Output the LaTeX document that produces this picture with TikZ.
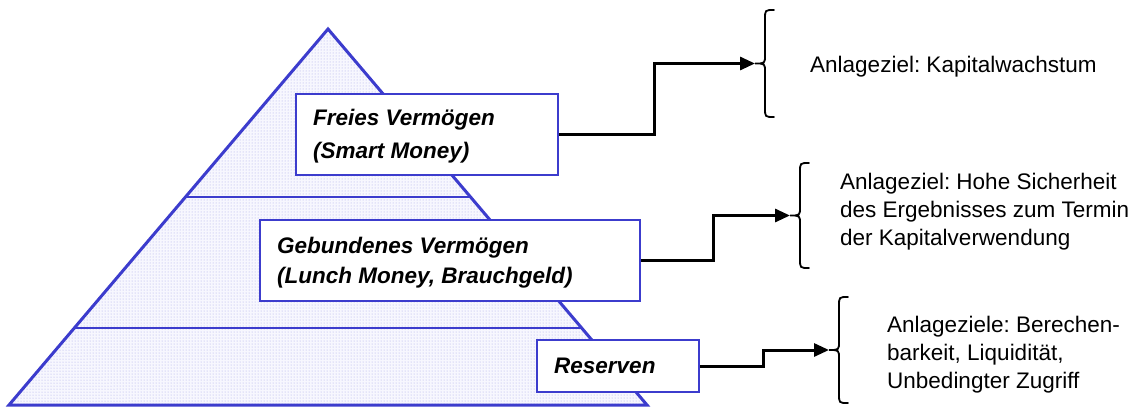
\documentclass[tikz,border=0pt]{standalone}
\usepackage{fontspec}
\setmainfont{Liberation Sans}
\frenchspacing
\usetikzlibrary{arrows.meta,patterns,calc}
\definecolor{pyrblue}{RGB}{60,60,205}
\definecolor{dotfill}{RGB}{247,247,254}
\tikzset{
  pyr/.style={draw=pyrblue,line width=3pt,line join=miter,preaction={fill=dotfill},pattern=dots,pattern color=pyrblue!45},
  divider/.style={draw=pyrblue,line width=2pt},
  levelbox/.style={draw=pyrblue,line width=2pt,fill=white,anchor=north west,inner sep=0pt},
  boxtext/.style={anchor=west,inner sep=0pt,align=left},
  conn/.style={draw=black,line width=3pt,-{Triangle[length=15pt,width=13pt]},line join=miter},
  curly/.style={draw=black,line width=1.8pt,line cap=round},
  goal/.style={anchor=west,font=\fontsize{22.5}{28}\selectfont,align=left,inner sep=0pt}
}
\begin{document}
\begin{tikzpicture}[x=1pt,y=-1pt]
\useasboundingbox (0,0) rectangle (1139,407);
% pyramid
\path[pyr] (9,405) -- (328,29) -- (647,405) -- cycle;
\coordinate (d1l) at (185.5,197);
\coordinate (d1r) at (470.5,197);
\coordinate (d2l) at (74,328);
\coordinate (d2r) at (582,328);
\draw[divider] (d1l) -- (d1r);
\draw[divider] (d2l) -- (d2r);
% boxes
\node[levelbox,minimum width=262pt,minimum height=81pt] (b1) at (295,93) {};
\node[boxtext,font=\fontsize{22.5}{33}\selectfont\bfseries\itshape] (t1) at ($(b1.west)+(18,1.5)$) {Freies Vermögen\\(Smart Money)};
\node[levelbox,minimum width=380pt,minimum height=81pt] (b2) at (259,219) {};
\node[boxtext,font=\fontsize{22.5}{30}\selectfont\bfseries\itshape] (t2) at ($(b2.west)+(18,2)$) {Gebundenes Vermögen\\(Lunch Money, Brauchgeld)};
\node[levelbox,minimum width=162pt,minimum height=52pt] (b3) at (536,339) {};
\node[boxtext,font=\fontsize{22.5}{30}\selectfont\bfseries\itshape] (t3) at ($(b3.west)+(18,0)$) {Reserven};
% braces: top end, tip, bottom end
\coordinate (tip1) at (755,63.5);
\coordinate (tip2) at (790,215.5);
\coordinate (tip3) at (829,350);
\draw[curly] (774,10) .. controls (765,10) .. (765,19) -- (765,55) .. controls (765,63.5) .. (tip1)
  .. controls (765,63.5) .. (765,72) -- (765,108) .. controls (765,117) .. (774,117);
\draw[curly] (809,163) .. controls (800,163) .. (800,172) -- (800,207) .. controls (800,215.5) .. (tip2)
  .. controls (800,215.5) .. (800,224) -- (800,259) .. controls (800,268) .. (809,268);
\draw[curly] (848,297) .. controls (839,297) .. (839,306) -- (839,341.5) .. controls (839,350) .. (tip3)
  .. controls (839,350) .. (839,358.5) -- (839,394) .. controls (839,403) .. (848,403);
% connectors
\coordinate (k1) at (654,63.5);
\coordinate (k2) at (713,215.5);
\coordinate (k3) at (763,350);
\draw[conn] (b1.east) -| (k1) -- (tip1);
\draw[conn] (b2.east) -| (k2) -- (tip2);
\draw[conn] (b3.east) -| (k3) -- (tip3);
% goals
\node[goal] (g1) at (810,66.5) {Anlageziel: Kapitalwachstum};
\node[goal] (g2) at (840,211.5) {Anlageziel: Hohe Sicherheit\\des Ergebnisses zum Termin\\der Kapitalverwendung};
\node[goal] (g3) at (887,355) {Anlageziele: Berechen-\\barkeit, Liquidität,\\Unbedingter Zugriff};
\end{tikzpicture}
\end{document}
